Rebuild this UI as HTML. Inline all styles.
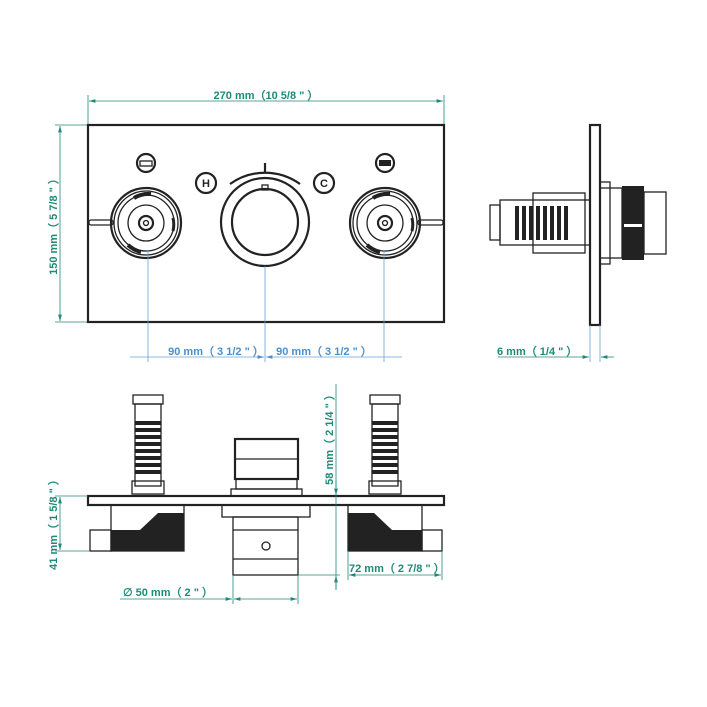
<!DOCTYPE html>
<html><head><meta charset="utf-8"><style>
html,body{margin:0;padding:0;background:#fff;width:707px;height:707px;overflow:hidden}
svg{display:block}
text{font-family:"Liberation Sans",sans-serif;font-weight:bold;font-size:11px}
.t{fill:#1f8a78}.b{fill:#4a90d0}
.k{fill:none;stroke:#222;stroke-width:1.3}
.kt{fill:none;stroke:#222;stroke-width:2.2}
.dl{stroke:#1f8a78;stroke-width:0.8;fill:none}
.bl{stroke:#6aa0d0;stroke-width:0.8;fill:none}
</style></head><body>
<svg width="707" height="707" viewBox="0 0 707 707">
<defs>
<marker id="a" viewBox="0 0 10 6" refX="10" refY="3" markerWidth="8" markerHeight="5" orient="auto-start-reverse"><path d="M0,0L10,3L0,6z" fill="#1f8a78"/></marker>
<marker id="ab" viewBox="0 0 10 6" refX="10" refY="3" markerWidth="8" markerHeight="5" orient="auto-start-reverse"><path d="M0,0L10,3L0,6z" fill="#4a90d0"/></marker>
<g id="knob">
<circle r="35" class="kt"/><circle r="32" class="k"/><circle r="28" class="k"/>
<circle r="18" class="k"/><circle r="7" class="kt"/><circle r="2.5" class="k"/>
<path d="M-12,-25 A28,28 0 0 1 5,-29" stroke="#222" stroke-width="4" fill="none"/>
<path d="M-18,22 A28,28 0 0 0 -5,29" stroke="#222" stroke-width="4" fill="none"/>
<path d="M27,-5 A28,28 0 0 1 27,8" stroke="#222" stroke-width="3" fill="none"/>
</g>
<g id="tube">
<rect x="-15" y="0" width="30" height="9" class="k"/>
<rect x="-13" y="9" width="26" height="82" class="k"/>
<g fill="#222"><rect x="-13" y="26" width="26" height="4"/><rect x="-13" y="33" width="26" height="4"/><rect x="-13" y="40" width="26" height="4"/><rect x="-13" y="47" width="26" height="4"/><rect x="-13" y="54" width="26" height="4"/><rect x="-13" y="61" width="26" height="4"/><rect x="-13" y="68" width="26" height="4"/><rect x="-13" y="75" width="26" height="4"/></g>
<rect x="-16" y="86" width="32" height="13" class="k" fill="#fff"/>
</g>
</defs>

<!-- top dimension -->
<line x1="88" y1="95" x2="88" y2="125" class="dl"/><line x1="444" y1="95" x2="444" y2="125" class="dl"/>
<line x1="89" y1="101" x2="443" y2="101" class="dl" marker-start="url(#a)" marker-end="url(#a)"/>
<text x="266" y="99" class="t" text-anchor="middle">270 mm（10 5/8 " ）</text>
<!-- left vertical -->
<line x1="55" y1="125" x2="88" y2="125" class="dl"/><line x1="55" y1="322" x2="88" y2="322" class="dl"/>
<line x1="60" y1="126" x2="60" y2="321" class="dl" marker-start="url(#a)" marker-end="url(#a)"/>
<text transform="translate(57,224) rotate(-90)" class="t" text-anchor="middle">150 mm（ 5 7/8 " ）</text>

<!-- front plate -->
<rect x="88" y="125" width="356" height="197" class="kt" stroke-width="1.6"/>
<use href="#knob" x="146" y="223"/><use href="#knob" x="385" y="223"/>
<rect x="89" y="220" width="24" height="5" rx="2" class="k" fill="#fff"/>
<rect x="418" y="220" width="25" height="5" rx="2" class="k" fill="#fff"/>
<circle cx="265" cy="222" r="44" class="kt"/><circle cx="265" cy="222" r="33" class="kt"/>
<rect x="262" y="185" width="6" height="5" class="k"/>
<path d="M230,184 A60,60 0 0 1 300,184" class="kt"/>
<line x1="265" y1="163" x2="265" y2="172" class="kt"/>
<circle cx="206" cy="183" r="10" class="kt"/><text x="206" y="187" text-anchor="middle" fill="#222" font-size="11">H</text>
<circle cx="324" cy="183" r="10" class="kt"/><text x="324" y="187" text-anchor="middle" fill="#222" font-size="11">C</text>
<circle cx="146" cy="163" r="9" class="kt"/><rect x="140" y="161" width="12" height="5" class="k"/>
<circle cx="385" cy="163" r="9" class="kt"/><rect x="379" y="160" width="12" height="6" fill="#222"/>

<!-- 90mm dims -->
<line x1="148" y1="250" x2="148" y2="362" class="bl"/><line x1="265" y1="266" x2="265" y2="362" class="bl"/><line x1="384" y1="250" x2="384" y2="362" class="bl"/>
<line x1="130" y1="357" x2="264" y2="357" class="bl" marker-end="url(#ab)"/>
<line x1="266" y1="357" x2="402" y2="357" class="bl" marker-start="url(#ab)"/>
<text x="216" y="355" class="b" text-anchor="middle">90 mm（ 3 1/2 " ）</text>
<text x="324" y="355" class="b" text-anchor="middle">90 mm（ 3 1/2 " ）</text>

<!-- side view -->
<rect x="590" y="125" width="10" height="200" class="kt" stroke-width="1.6"/>
<rect x="490" y="205" width="10" height="35" class="k"/>
<rect x="500" y="200" width="90" height="45" class="k"/>
<g fill="#222"><rect x="515" y="206" width="4" height="34"/><rect x="522" y="206" width="4" height="34"/><rect x="529" y="206" width="4" height="34"/><rect x="536" y="206" width="4" height="34"/><rect x="543" y="206" width="4" height="34"/><rect x="550" y="206" width="4" height="34"/><rect x="557" y="206" width="4" height="34"/><rect x="564" y="206" width="4" height="34"/></g>
<rect x="533" y="193" width="52" height="60" class="k"/>
<rect x="600" y="182" width="10" height="82" class="k"/>
<rect x="600" y="188" width="22" height="70" class="k"/>
<rect x="622" y="186" width="22" height="74" fill="#222"/>
<rect x="624" y="224" width="18" height="3" fill="#fff"/>
<rect x="644" y="192" width="22" height="62" class="k"/>
<line x1="590" y1="325" x2="590" y2="362" class="bl"/><line x1="600" y1="325" x2="600" y2="362" class="bl"/>
<line x1="498" y1="357" x2="589" y2="357" class="dl" marker-end="url(#a)"/>
<line x1="614" y1="357" x2="601" y2="357" class="dl" marker-end="url(#a)"/>
<text x="497" y="355" class="t">6 mm（ 1/4 " ）</text>

<!-- bottom view -->
<use href="#tube" x="148" y="395"/><use href="#tube" x="385" y="395"/>
<rect x="235" y="439" width="63" height="40" class="kt" stroke-width="1.5"/>
<line x1="235" y1="459" x2="298" y2="459" class="k"/>
<rect x="236" y="479" width="61" height="10" class="k"/>
<rect x="231" y="489" width="71" height="7" class="k"/>
<rect x="88" y="496" width="356" height="9" class="kt" stroke-width="1.5" fill="#fff"/>
<!-- left housing -->
<rect x="111" y="505" width="73" height="46" class="k"/>
<path d="M111,530 L140,530 L158,513 L184,513 L184,551 L111,551z" fill="#222"/>
<rect x="90" y="530" width="21" height="21" class="k"/>
<!-- right housing -->
<rect x="348" y="505" width="74" height="46" class="k"/>
<path d="M348,513 L374,513 L392,530 L422,530 L422,551 L348,551z" fill="#222"/>
<rect x="422" y="530" width="20" height="21" class="k"/>
<!-- center body -->
<rect x="222" y="505" width="88" height="12" class="k"/>
<rect x="233" y="517" width="65" height="58" class="k"/>
<line x1="233" y1="530" x2="298" y2="530" class="k"/><line x1="233" y1="559" x2="298" y2="559" class="k"/>
<circle cx="266" cy="546" r="4" class="k"/>

<!-- 58mm -->
<line x1="336" y1="384" x2="336" y2="590" class="dl"/>
<line x1="336" y1="480" x2="336" y2="495" class="dl" marker-end="url(#a)"/>
<line x1="336" y1="590" x2="336" y2="576" class="dl" marker-end="url(#a)"/>
<line x1="298" y1="575" x2="340" y2="575" class="dl"/>
<text transform="translate(333,437) rotate(-90)" class="t" text-anchor="middle">58 mm（ 2 1/4 " ）</text>
<!-- 72mm -->
<line x1="348" y1="551" x2="348" y2="580" class="dl"/><line x1="442" y1="551" x2="442" y2="580" class="dl"/>
<line x1="349" y1="575" x2="441" y2="575" class="dl" marker-start="url(#a)" marker-end="url(#a)"/>
<text x="349" y="572" class="t">72 mm（ 2 7/8 " ）</text>
<!-- 50mm -->
<line x1="233" y1="575" x2="233" y2="604" class="dl"/><line x1="298" y1="575" x2="298" y2="604" class="dl"/>
<line x1="120" y1="599" x2="232" y2="599" class="dl" marker-end="url(#a)"/>
<line x1="234" y1="599" x2="297" y2="599" class="dl" marker-start="url(#a)" marker-end="url(#a)"/>
<text x="123" y="596" class="t">∅  50 mm（ 2 " ）</text>
<!-- 41mm -->
<line x1="55" y1="496" x2="88" y2="496" class="dl"/><line x1="55" y1="551" x2="90" y2="551" class="dl"/>
<line x1="60" y1="497" x2="60" y2="550" class="dl" marker-start="url(#a)" marker-end="url(#a)"/>
<text transform="translate(57,522) rotate(-90)" class="t" text-anchor="middle">41 mm（ 1 5/8 " ）</text>
</svg>
</body></html>
